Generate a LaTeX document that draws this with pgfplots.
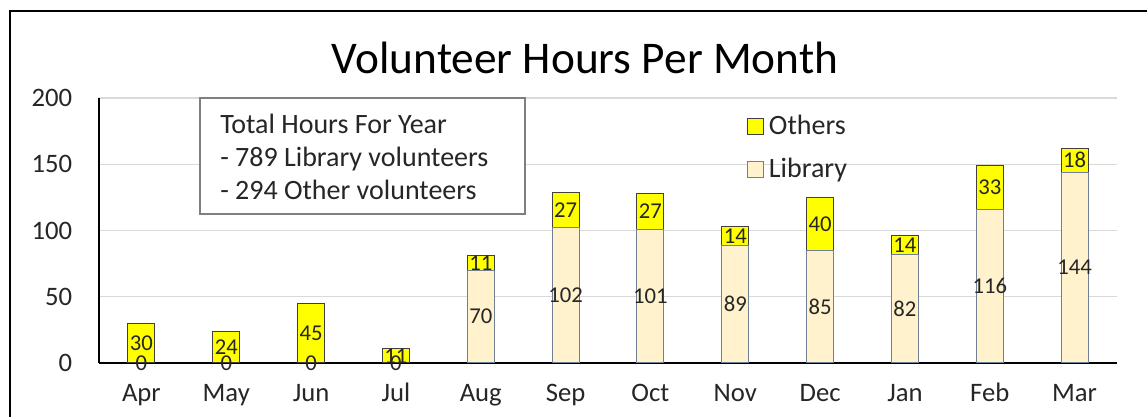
\documentclass[border=0pt]{standalone}
\usepackage{pgfplots}
\usepackage{pgfplotstable}
\pgfplotsset{compat=1.18}
\usepackage{fontspec}
\setmainfont{Carlito}
\definecolor{libfill}{HTML}{FFF2CC}
\definecolor{libedge}{HTML}{6E7F96}
\definecolor{othfill}{HTML}{FFFF00}
\definecolor{othedge}{HTML}{404040}
\definecolor{gridc}{HTML}{D9D9D9}
\definecolor{txt}{HTML}{262626}
\definecolor{boxc}{HTML}{7F7F7F}

\pgfplotstableread{
x lib oth
0 0 30
1 0 24
2 0 45
3 0 11
4 70 11
5 102 27
6 101 27
7 89 14
8 85 40
9 82 14
10 116 33
11 144 18
}\data

\pgfplotsset{
  frame/.style={
    at={(74.25pt,40.5pt)}, anchor=south west,
    scale only axis, width=763.5pt, height=198.75pt,
    clip=false,
    xmin=-0.5, xmax=11.5, ymin=0, ymax=200,
    /pgf/number format/assume math mode=true,
  }
}

\begin{document}
\begin{tikzpicture}[x=0.75pt,y=0.75pt]
\useasboundingbox (0,0) rectangle (1147,417);
\draw[line width=2pt] (10,-5) -- (10,406) -- (1152,406);
\node[anchor=base, font=\fontsize{34}{40}\selectfont, text=black, inner sep=0pt] at (585,343) {Volunteer Hours Per Month};
\begin{axis}[
  frame,
  ybar stacked, bar width=20.25pt,
  ytick={0,50,...,200},
  xtick={0,...,11},
  xticklabels={Apr,May,Jun,Jul,Aug,Sep,Oct,Nov,Dec,Jan,Feb,Mar},
  axis x line=bottom, axis y line=left,
  axis line style={-, black, line width=1.1pt},
  major tick length=0pt,
  ymajorgrids, grid style={gridc, line width=1.1pt},
  tick label style={font=\fontsize{20}{24}\selectfont, text=txt},
  yticklabel style={inner sep=0pt, xshift=-20pt},
  xticklabel style={inner sep=0pt, anchor=base, yshift=-29pt},
  reverse legend,
  legend cell align=left,
  legend image code/.code={\draw[#1, line width=0.75pt] (0pt,-6pt) rectangle (12pt,6pt);},
  legend style={at={(0.632,0.955)}, anchor=north west, draw=none, fill=none,
    font=\fontsize{21}{25}\selectfont, text=txt, row sep=12pt,
    nodes={inner xsep=4pt}},
  nodes near coords, point meta=explicit,
  nodes near coords align=center,
  every node near coord/.append style={font=\fontsize{17}{20}\selectfont, text=txt, inner sep=0pt},
]
\addplot[fill=libfill, draw=libedge, line width=0.75pt]
  table[x=x,y=lib,meta=lib]{\data};
\addlegendentry{Library}
\addplot[fill=othfill, draw=othedge, line width=0.75pt]
  table[x=x,y=oth,meta=oth]{\data};
\addlegendentry{Others}
\end{axis}
% zero-valued Library labels (drawn on top, at the base of the bars)
\begin{axis}[
  frame, axis lines=none,
  nodes near coords, point meta=explicit,
  nodes near coords align=center,
  every node near coord/.append style={font=\fontsize{17}{20}\selectfont, text=txt, inner sep=0pt, anchor=center},
]
\addplot[draw=none, mark=none, restrict y to domain=-0.5:0.5]
  table[x=x,y=lib,meta=lib]{\data};
\end{axis}
\draw[boxc, line width=1.5pt, fill=white] (200,203) rectangle (525,319);
\node[anchor=base west, inner sep=0pt, font=\fontsize{21}{25}\selectfont, text=txt] at (220,283) {Total Hours For Year};
\node[anchor=base west, inner sep=0pt, font=\fontsize{21}{25}\selectfont, text=txt] at (220,250) {- 789 Library volunteers};
\node[anchor=base west, inner sep=0pt, font=\fontsize{21}{25}\selectfont, text=txt] at (220,217) {- 294 Other volunteers};
\end{tikzpicture}
\end{document}
